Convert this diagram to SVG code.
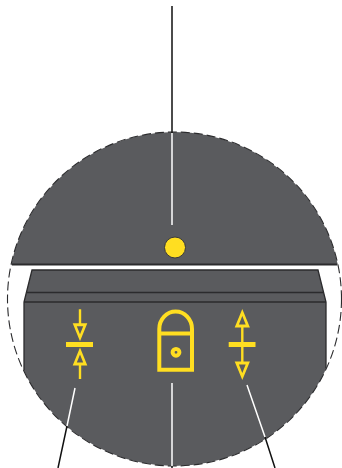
<svg xmlns="http://www.w3.org/2000/svg" width="342" height="468" viewBox="0 0 342 468">
<style>
.body{fill:#5a5b5e}
.edge{fill:none;stroke:#2b2b2d;stroke-width:1.3}
.y{fill:none;stroke:#ffde21;stroke-width:2.4}
.yf{fill:#ffde21;fill-rule:evenodd}
.k{stroke:#111;stroke-width:1.5;fill:none}
.w{stroke:#fff;stroke-width:1.5;fill:none}
</style>
<defs>
<clipPath id="c"><circle cx="174.5" cy="299" r="167"/></clipPath>
</defs>
<g id="upper-body">
<rect class="body" clip-path="url(#c)" x="0" y="120" width="342" height="144.500"/>
<path d="M11.800 264.500H337.200" fill="none" stroke="#2b2b2d" stroke-width="1.800"/>
</g>
<g id="lower-body">
<path class="body" clip-path="url(#c)" d="M24 302L32 270H318L326 302V468H24Z"/>
<path class="edge" d="M24 370V302L32 270H318L326 302V368M24 302H326M26 292.500H324"/>
</g>
<circle id="outline" cx="174.500" cy="299" r="167" fill="none" stroke="#2b2b2d" stroke-width="1.100" stroke-dasharray="9 4"/>
<g id="indicator"><circle cx="175" cy="247.500" r="10.500" fill="#ffde21" stroke="#3a3a3c" stroke-width="1"/></g>
<g id="clamp-symbol">
<path class="y" d="M80 309.300V325M80 364V379"/>
<path class="yf" d="M72.700 323.300H87.300L80 341.300ZM76.800 326.300L80 334.300L83.200 326.300Z"/>
<path class="yf" d="M72.700 365.400H87.300L80 347.400ZM76.800 362.400L80 354.400L83.200 362.400Z"/>
<rect class="yf" x="66" y="342" width="27" height="5"/>
</g>
<g id="lock-symbol">
<path d="M159.300 369.700V329A16.350 17.500 0 0 1 192 329V369.700ZM159.300 333.500H192" fill="none" stroke="#ffde21" stroke-width="4"/>
<circle cx="176" cy="352.300" r="3.400" fill="none" stroke="#ffde21" stroke-width="4"/>
</g>
<g id="release-symbol">
<path class="y" d="M242.300 325V342M242.300 347V364"/>
<path class="yf" d="M234.700 327.500H249.900L242.300 309ZM238.900 324.500H245.700L242.300 316Z"/>
<path class="yf" d="M234.700 361.500H249.900L242.300 380ZM238.900 364.500H245.700L242.300 373Z"/>
<rect class="yf" x="228.700" y="342" width="26.800" height="5"/>
</g>
<g id="connectors">
<path class="k" d="M172 6V133M172 466V468M67 426L58 468M265 437L275 468"/>
<path class="w" d="M172 133V225M172 383V466M75 388L67 426M247 385L265 437"/>
</g>
</svg>
